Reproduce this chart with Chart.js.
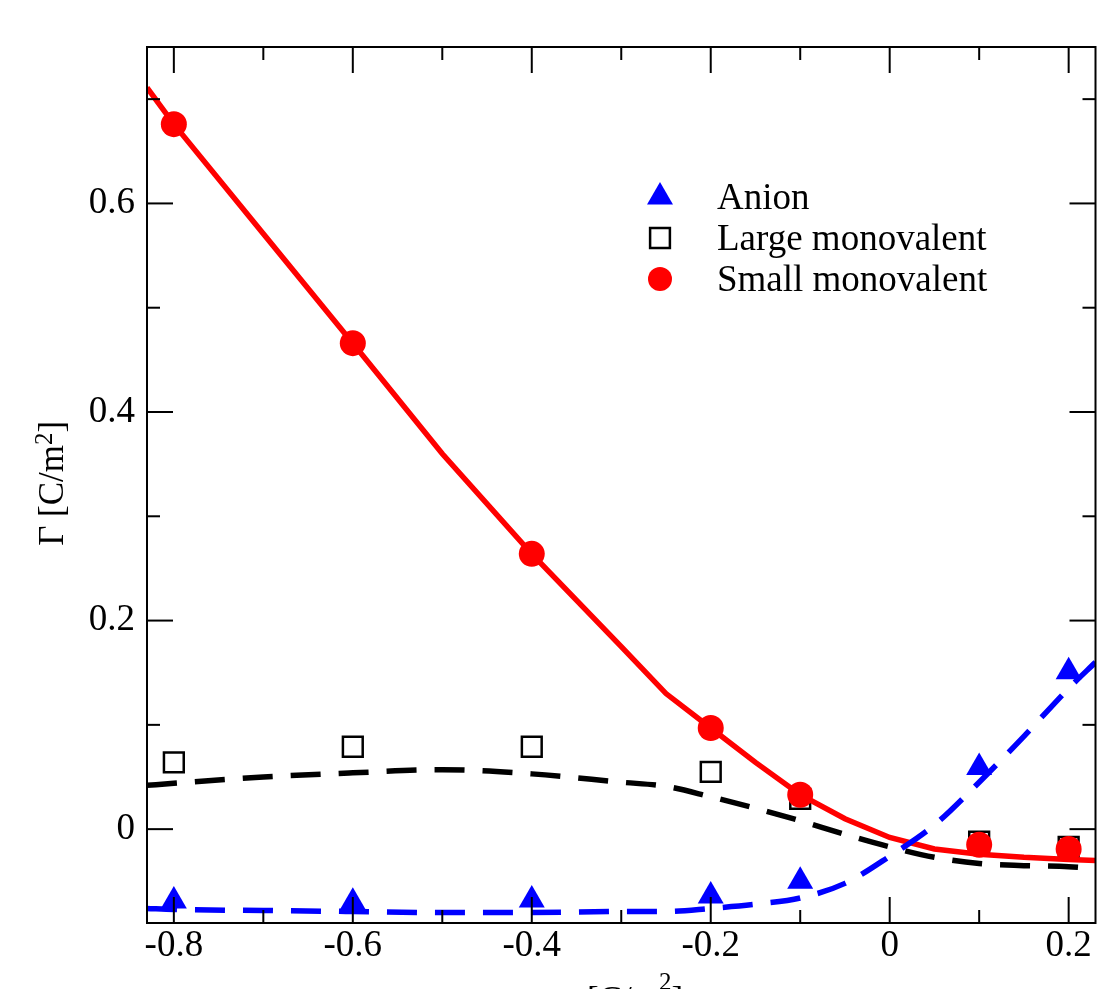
<!DOCTYPE html>
<html>
<head>
	<meta charset="utf-8">
	<title>Gamma vs sigma</title>
	<script src="https://cdn.jsdelivr.net/npm/chart.js@4.4.1/dist/chart.umd.min.js"></script>
	<style>
		html, body { margin: 0; padding: 0; background: #fff; width: 1112px; height: 989px; overflow: hidden; }
		#wrap { position: relative; width: 1112px; height: 1040px; }
	</style>
</head>
<body>
<div id="wrap"><canvas id="myChart" width="1112" height="1040"></canvas></div>
<script>
	// simulation points
	const sigmaSim = [-0.8, -0.6, -0.4, -0.2, -0.1, 0.1, 0.2];
	const anionSim = [-0.069, -0.070, -0.068, -0.064, -0.050, 0.059, 0.151];
	const largeSim = [0.064, 0.079, 0.079, 0.055, 0.029, -0.012, -0.017];
	const smallSim = [0.676, 0.466, 0.264, 0.097, 0.033, -0.015, -0.019];

	// theory curves
	const sigmaTh = [-0.83, -0.8, -0.7, -0.6, -0.5, -0.4, -0.3, -0.25, -0.2, -0.15, -0.1, -0.05, 0, 0.05, 0.1, 0.15, 0.2, 0.23];
	const anionTh = [-0.076, -0.077, -0.078, -0.079, -0.080, -0.080, -0.079, -0.079, -0.076, -0.072, -0.066, -0.052, -0.026, 0.004, 0.045, 0.089, 0.135, 0.160];
	const largeTh = [0.042, 0.044, 0.050, 0.054, 0.057, 0.053, 0.045, 0.041, 0.031, 0.020, 0.008, -0.005, -0.017, -0.027, -0.033, -0.035, -0.036, -0.038];
	const smallTh = [0.711, 0.676, 0.571, 0.466, 0.360, 0.264, 0.175, 0.130, 0.097, 0.064, 0.033, 0.010, -0.008, -0.019, -0.024, -0.027, -0.029, -0.030];

	// axis ticks
	const xTicks = [-0.8, -0.6, -0.4, -0.2, 0, 0.2];
	const xMinor = [-0.7, -0.5, -0.3, -0.1, 0.1];
	const yTicks = [0, 0.2, 0.4, 0.6];
	const yMinor = [0.1, 0.3, 0.5, 0.7];

	// axis titles, as [text, superscript, text]
	const xTitle = ['σ [C/m', '2', ']'];
	const yTitle = ['Γ [C/m', '2', ']'];

	const serif = 'Liberation Serif';
	const pts = (xs, ys) => xs.map((v, i) => ({x: v, y: ys[i]}));

	// frame with inward ticks on all four sides
	const frameTicks = {
		id: 'frameTicks',
		afterDatasetsDraw(chart) {
			const {ctx, chartArea: a, scales: {x, y}} = chart;
			ctx.save();
			ctx.strokeStyle = '#000';
			ctx.lineWidth = 2;
			const line = (x1, y1, x2, y2) => { ctx.beginPath(); ctx.moveTo(x1, y1); ctx.lineTo(x2, y2); ctx.stroke(); };
			const xt = (v, len) => { const p = x.getPixelForValue(v); line(p, a.bottom, p, a.bottom - len); line(p, a.top, p, a.top + len); };
			const yt = (v, len) => { const p = y.getPixelForValue(v); line(a.left, p, a.left + len, p); line(a.right, p, a.right - len, p); };
			xTicks.forEach(v => xt(v, 26));
			xMinor.forEach(v => xt(v, 13));
			yTicks.forEach(v => yt(v, 26));
			yMinor.forEach(v => yt(v, 13));
			ctx.strokeRect(a.left, a.top, a.right - a.left, a.bottom - a.top);
			ctx.restore();
		}
	};

	// axis titles with a raised exponent
	function drawTitle(ctx, parts, rise) {
		let pos = 0;
		parts.forEach((t, i) => {
			const sup = i === 1;
			ctx.font = (sup ? 25 : 35) + 'px "' + serif + '"';
			ctx.fillText(t, pos, sup ? -rise : 0);
			pos += ctx.measureText(t).width;
		});
		return pos;
	}
	const axisTitles = {
		id: 'axisTitles',
		afterDraw(chart) {
			const {ctx, chartArea: a} = chart;
			ctx.save();
			ctx.fillStyle = '#000';
			ctx.textBaseline = 'alphabetic';
			// measure first, then center
			ctx.save(); ctx.globalAlpha = 0;
			const wx = drawTitle(ctx, xTitle, 0);
			ctx.restore();
			ctx.save();
			ctx.translate((a.left + a.right) / 2 - wx / 2, 1011);
			drawTitle(ctx, xTitle, 21);
			ctx.restore();
			ctx.save();
			ctx.translate(63, (a.top + a.bottom) / 2 + wx / 2 - 1);
			ctx.rotate(-Math.PI / 2);
			drawTitle(ctx, yTitle, 11);
			ctx.restore();
			ctx.restore();
		}
	};

	// legend inside the plot, top right
	const innerLegend = {
		id: 'innerLegend',
		afterDatasetsDraw(chart) {
			const ctx = chart.ctx;
			const items = chart.data.datasets.filter(d => d.legendRow !== undefined)
				.sort((p, q) => p.legendRow - q.legendRow);
			ctx.save();
			ctx.font = '37px "' + serif + '"';
			ctx.textBaseline = 'alphabetic';
			items.forEach((d, i) => {
				const cy = 197 + i * 41;
				ctx.fillStyle = d.backgroundColor;
				ctx.strokeStyle = d.borderColor;
				ctx.lineWidth = d.borderWidth;
				Chart.helpers.drawPoint(ctx, {pointStyle: d.pointStyle, radius: d.legendRadius, rotation: 0, borderWidth: d.borderWidth}, 660, cy);
				ctx.fillStyle = '#000';
				ctx.fillText(d.label, 717, cy + 12);
			});
			ctx.restore();
		}
	};

	const ctx = document.getElementById('myChart').getContext('2d');
	const chart = new Chart(ctx, {
		type: 'scatter',
		data: {
			datasets: [
				{
					label: 'Small monovalent', legendRow: 2, order: 0,
					data: pts(sigmaSim, smallSim),
					pointStyle: 'circle', pointRadius: 13, legendRadius: 12,
					backgroundColor: '#ff0000', borderColor: '#ff0000', borderWidth: 0
				},
				{
					label: 'Anion', legendRow: 0, order: 1,
					data: pts(sigmaSim, anionSim),
					pointStyle: 'triangle', pointRadius: 15, legendRadius: 15,
					backgroundColor: '#0000ff', borderColor: '#0000ff', borderWidth: 0
				},
				{
					label: 'Anion theory', type: 'line', order: 2,
					data: pts(sigmaTh, anionTh),
					borderColor: '#0000ff', borderWidth: 5.5, borderDash: [30, 18],
					pointRadius: 0, cubicInterpolationMode: 'monotone', fill: false
				},
				{
					label: 'Small theory', type: 'line', order: 3,
					data: pts(sigmaTh, smallTh),
					borderColor: '#ff0000', borderWidth: 5.5, tension: 0,
					pointRadius: 0, fill: false
				},
				{
					label: 'Large monovalent', legendRow: 1, order: 4,
					data: pts(sigmaSim, largeSim),
					pointStyle: 'rect', pointRadius: 14, legendRadius: 14,
					backgroundColor: 'rgba(0,0,0,0)', borderColor: '#000', borderWidth: 2.5
				},
				{
					label: 'Large theory', type: 'line', order: 5,
					data: pts(sigmaTh, largeTh),
					borderColor: '#000', borderWidth: 5.5, borderDash: [30, 18],
					pointRadius: 0, cubicInterpolationMode: 'monotone', fill: false
				}
			]
		},
		options: {
			responsive: false,
			animation: false,
			layout: { padding: { top: 47, right: 15, left: 0, bottom: 0 } },
			plugins: { legend: { display: false }, tooltip: { enabled: false } },
			scales: {
				x: {
					type: 'linear', min: -0.83, max: 0.23,
					grid: { display: false, drawTicks: false },
					border: { display: false },
					afterBuildTicks: s => { s.ticks = xTicks.map(v => ({value: v})); },
					afterFit: s => { s.height = 1040 - 923; },
					ticks: {
						color: '#000', padding: 5,
						font: { family: serif, size: 37, lineHeight: 1 },
						callback: v => String(v)
					}
				},
				y: {
					type: 'linear', min: -0.09, max: 0.75,
					grid: { display: false, drawTicks: false },
					border: { display: false },
					afterBuildTicks: s => { s.ticks = yTicks.map(v => ({value: v})); },
					afterFit: s => { s.width = 147; },
					ticks: {
						color: '#000', padding: 12,
						font: { family: serif, size: 37, lineHeight: 1 },
						callback: v => String(v)
					}
				}
			}
		},
		plugins: [frameTicks, innerLegend, axisTitles]
	});
</script>
</body>
</html>
